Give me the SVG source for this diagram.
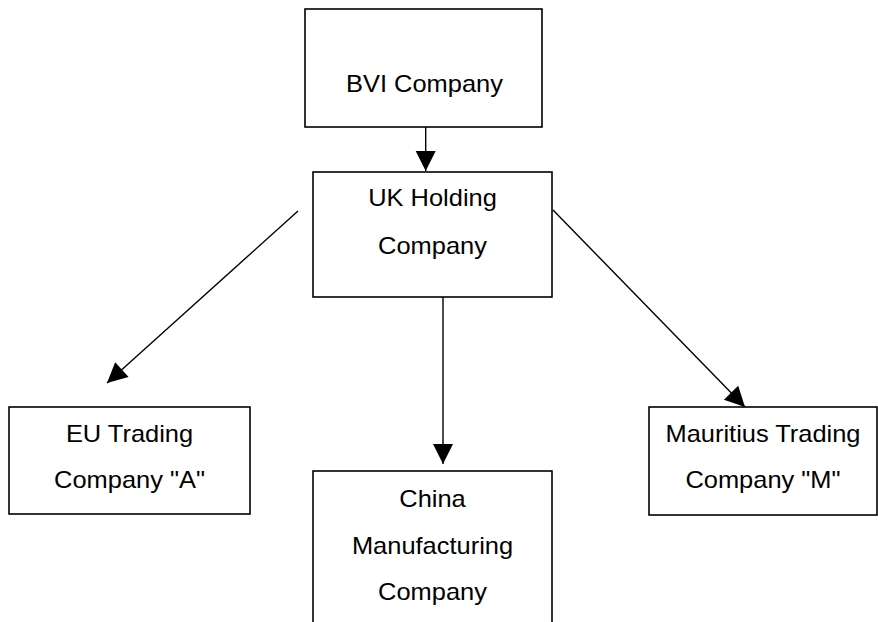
<svg xmlns="http://www.w3.org/2000/svg" width="878" height="622" viewBox="0 0 878 622">
<style>
.box{fill:#fff;stroke:#000;stroke-width:1.6}
.t{font-family:"Liberation Sans",Arial,sans-serif;font-size:24px;fill:#000;text-anchor:middle}
.c{stroke:#000;stroke-width:1.4;fill:none;marker-end:url(#ah)}
</style>
<defs>
<marker id="ah" markerUnits="userSpaceOnUse" markerWidth="22" markerHeight="22" viewBox="0 0 22 22" refX="21" refY="11" orient="auto">
<path d="M1,1 L21,11 L1,21 z" fill="#000"/>
</marker>
</defs>
<rect width="878" height="622" fill="#fff"/>
<g id="bvi"><rect class="box" x="305" y="9" width="237" height="118"/><g transform="translate(424.5,0) scale(1.06,1)"><text class="t" x="0" y="92">BVI Company</text></g></g>
<g id="uk"><rect class="box" x="313" y="172" width="239" height="125"/><g transform="translate(432.5,0) scale(1.06,1)"><text class="t" x="0" y="206">UK Holding</text><text class="t" x="0" y="254">Company</text></g></g>
<g id="eu"><rect class="box" x="9" y="407" width="241" height="107"/><g transform="translate(129.5,0) scale(1.06,1)"><text class="t" x="0" y="442">EU Trading</text><text class="t" x="0" y="488">Company "A"</text></g></g>
<g id="china"><rect class="box" x="313" y="471" width="239" height="170"/><g transform="translate(432.5,0) scale(1.06,1)"><text class="t" x="0" y="507">China</text><text class="t" x="0" y="554">Manufacturing</text><text class="t" x="0" y="600">Company</text></g></g>
<g id="mauritius"><rect class="box" x="649" y="407" width="228" height="108"/><g transform="translate(763,0) scale(1.06,1)"><text class="t" x="0" y="442">Mauritius Trading</text><text class="t" x="0" y="488">Company "M"</text></g></g>
<g id="connectors">
<line class="c" x1="425.7" y1="127" x2="425.7" y2="171"/>
<line class="c" x1="298" y1="211" x2="107" y2="383"/>
<line class="c" x1="443" y1="297" x2="443" y2="464"/>
<line class="c" x1="553" y1="210" x2="745" y2="407"/>
</g>
</svg>
